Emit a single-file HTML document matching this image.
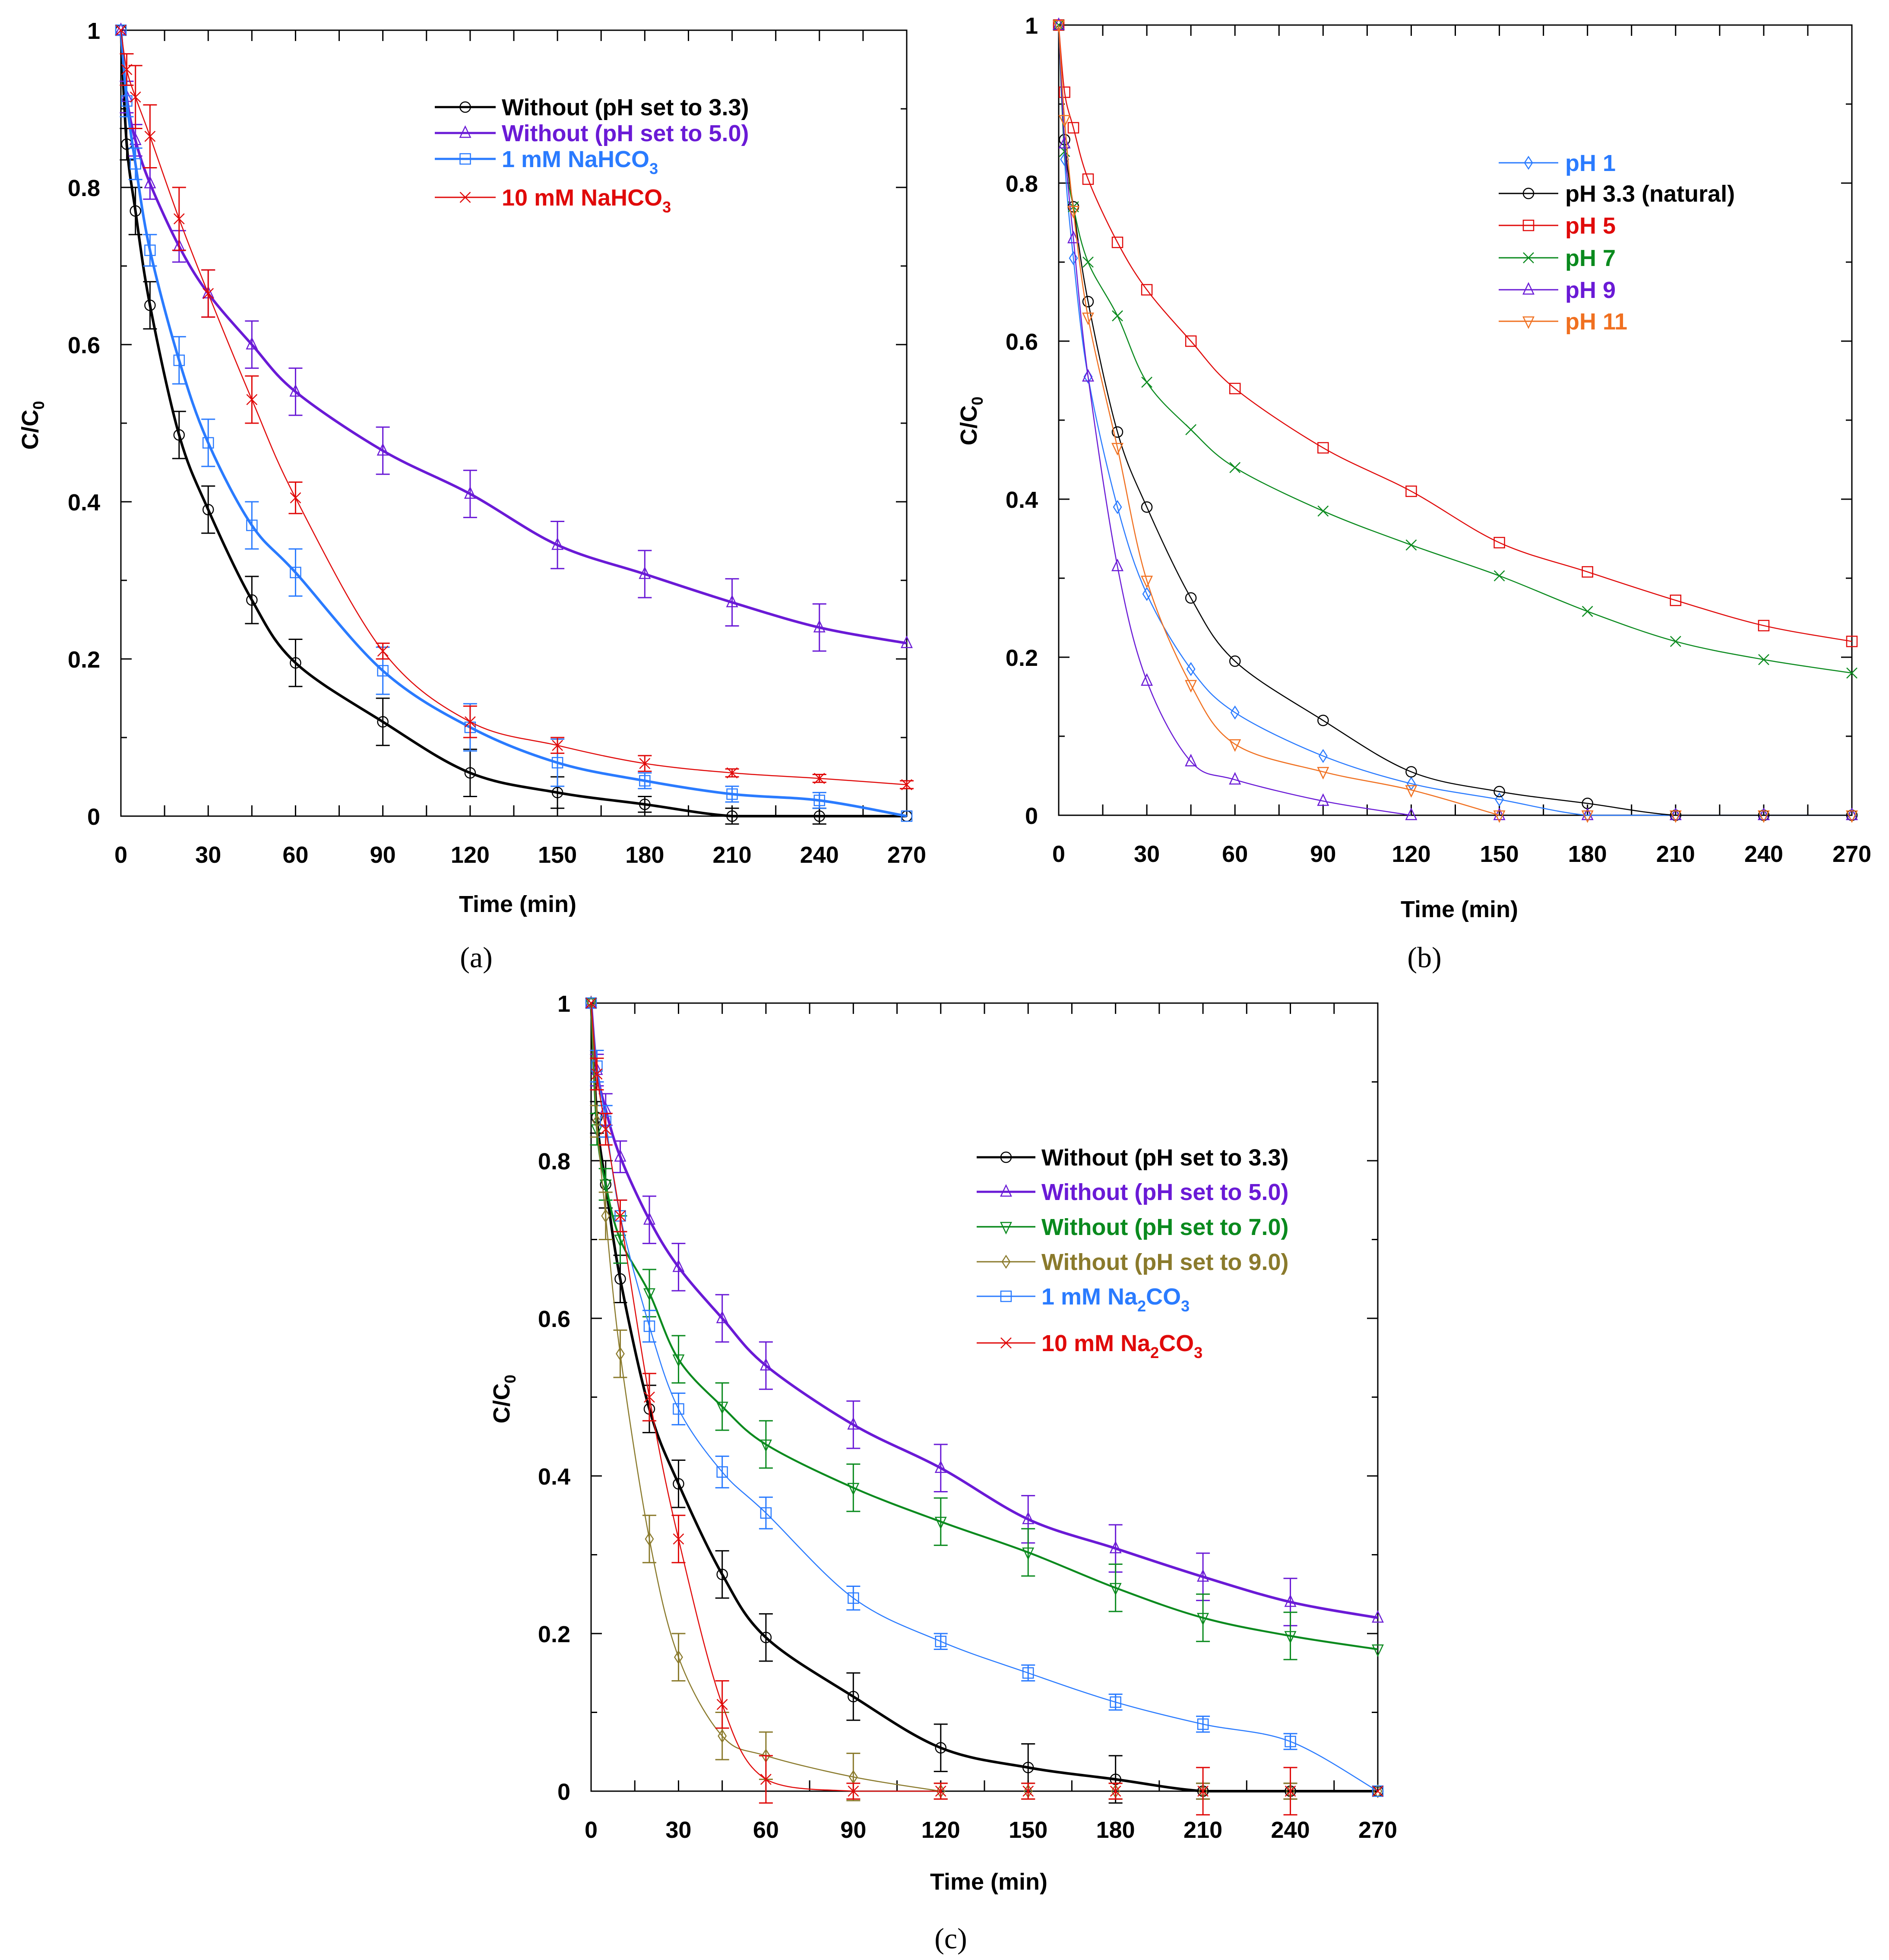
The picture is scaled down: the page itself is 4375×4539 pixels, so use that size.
<!DOCTYPE html>
<html><head><meta charset="utf-8">
<style>
html,body{margin:0;padding:0;background:#fff;}
svg{display:block;font-family:"Liberation Sans",Arial,sans-serif;}
</style></head>
<body>
<svg id="fig" width="4375" height="4539" viewBox="0 0 4375 4539" xmlns="http://www.w3.org/2000/svg"></svg>
<script>
// ---------- shared data ----------
const times = [0,2,5,10,20,30,45,60,90,120,150,180,210,240,270];
const xTickLabels = ["0","30","60","90","120","150","180","210","240","270"];
const yTickLabels = ["0","0.2","0.4","0.6","0.8","1"];

// panel (a)
const aPH33   = [1,0.855,0.77,0.65,0.485,0.39,0.275,0.195,0.12,0.055,0.03,0.015,0,0,0];
const aPH50   = [1,0.915,0.86,0.805,0.725,0.665,0.6,0.54,0.465,0.41,0.345,0.308,0.272,0.24,0.22];
const a1mM    = [1,0.91,0.83,0.72,0.58,0.475,0.37,0.31,0.185,0.113,0.068,0.045,0.028,0.02,0];
const a10mM   = [1,0.95,0.915,0.865,0.76,0.665,0.53,0.405,0.21,0.12,0.09,0.067,0.055,0.048,0.04];
const aErrPH33= [0,0.02,0.03,0.03,0.03,0.03,0.03,0.03,0.03,0.03,0.02,0.01,0.01,0.01,0];
const aErrPH50= [0,0.02,0.02,0.02,0.02,0.03,0.03,0.03,0.03,0.03,0.03,0.03,0.03,0.03,0];
const aErr1mM = [0,0.02,0.02,0.02,0.03,0.03,0.03,0.03,0.03,0.03,0.03,0.01,0.01,0.01,0];
const aErr10mM= [0,0.02,0.04,0.04,0.04,0.03,0.03,0.02,0.01,0.02,0.01,0.01,0.005,0.005,0.005];

// panel (b)
const bPH1  = [1,0.83,0.705,0.555,0.39,0.28,0.185,0.13,0.075,0.04,0.02,0,0,0,0];
const bPH33 = [1,0.855,0.77,0.65,0.485,0.39,0.275,0.195,0.12,0.055,0.03,0.015,0,0,0];
const bPH5  = [1,0.915,0.87,0.805,0.725,0.665,0.6,0.54,0.465,0.41,0.345,0.308,0.272,0.24,0.22];
const bPH7  = [1,0.84,0.77,0.70,0.632,0.548,0.488,0.44,0.385,0.342,0.303,0.258,0.22,0.197,0.18];
const bPH9  = [1,0.85,0.73,0.555,0.315,0.17,0.068,0.045,0.018,0,0,0,0,0,0];
const bPH11 = [1,0.88,0.765,0.63,0.465,0.297,0.165,0.09,0.055,0.032,0,0,0,0,0];

// panel (c)
const cPH33 = [1,0.855,0.77,0.65,0.485,0.39,0.275,0.195,0.12,0.055,0.03,0.015,0,0,0];
const cPH50 = [1,0.915,0.865,0.805,0.725,0.665,0.6,0.54,0.465,0.41,0.345,0.308,0.272,0.24,0.22];
const cPH70 = [1,0.84,0.77,0.70,0.632,0.548,0.488,0.44,0.385,0.342,0.303,0.258,0.22,0.197,0.18];
const cPH90 = [1,0.85,0.73,0.555,0.32,0.17,0.07,0.045,0.018,0,0,0,0,0,0];
const c1mM  = [1,0.92,0.85,0.73,0.59,0.485,0.405,0.353,0.245,0.19,0.15,0.113,0.085,0.063,0];
const c10mM = [1,0.91,0.84,0.73,0.5,0.32,0.11,0.015,0,0,0,0,0,0,0];
const cErrPH33=[0,0.02,0.03,0.03,0.03,0.03,0.03,0.03,0.03,0.03,0.03,0.03,0.01,0.01,0];
const cErrPH50=[0,0.02,0.02,0.02,0.03,0.03,0.03,0.03,0.03,0.03,0.03,0.03,0.03,0.03,0];
const cErrPH70=[0,0.02,0.02,0.03,0.03,0.03,0.03,0.03,0.03,0.03,0.03,0.03,0.03,0.03,0];
const cErrPH90=[0,0.02,0.03,0.03,0.03,0.03,0.03,0.03,0.03,0.01,0.01,0.01,0.01,0.01,0];
const cErr1mM =[0,0.02,0.02,0.02,0.02,0.02,0.02,0.02,0.015,0.01,0.01,0.01,0.01,0.01,0];
const cErr10mM=[0,0.02,0.02,0.02,0.03,0.03,0.03,0.03,0.01,0.01,0.01,0.01,0.03,0.03,0];

// ---------- drawing helpers ----------
const NS="http://www.w3.org/2000/svg";
const svg=document.getElementById('fig');
function mk(tag,attrs,parent){const e=document.createElementNS(NS,tag);for(const k in attrs)e.setAttribute(k,attrs[k]);(parent||svg).appendChild(e);return e;}

function smoothPath(pts){
  let d="M"+pts[0][0]+","+pts[0][1];
  for(let i=0;i<pts.length-1;i++){
    const p0=pts[i-1]||pts[i],p1=pts[i],p2=pts[i+1],p3=pts[i+2]||p2;
    let c1x=p1[0]+(p2[0]-p0[0])/6,c1y=p1[1]+(p2[1]-p0[1])/6;
    let c2x=p2[0]-(p3[0]-p1[0])/6,c2y=p2[1]-(p3[1]-p1[1])/6;
    const lo=Math.max(p1[1],p2[1]),hi=Math.min(p1[1],p2[1]);
    c1y=Math.min(Math.max(c1y,hi),lo);c2y=Math.min(Math.max(c2y,hi),lo);
    d+=" C"+c1x+","+c1y+" "+c2x+","+c2y+" "+p2[0]+","+p2[1];
  }
  return d;
}

function marker(g,type,x,y,color,sw){
  const r=12;let e;
  const st={fill:"none",stroke:color,"stroke-width":sw};
  if(type==="circle"){e=mk('circle',Object.assign({cx:x,cy:y,r:r},st),g);}
  else if(type==="square"){e=mk('rect',Object.assign({x:x-r,y:y-r,width:2*r,height:2*r},st),g);}
  else if(type==="tri"){e=mk('polygon',Object.assign({points:`${x},${y-r-3} ${x+r},${y+r-2} ${x-r},${y+r-2}`},st),g);}
  else if(type==="itri"){e=mk('polygon',Object.assign({points:`${x},${y+r+3} ${x+r},${y-r+2} ${x-r},${y-r+2}`},st),g);}
  else if(type==="diamond"){e=mk('polygon',Object.assign({points:`${x},${y-r-2} ${x+r-3},${y} ${x},${y+r+2} ${x-r+3},${y}`},st),g);}
  else if(type==="x"){e=mk('path',Object.assign({d:`M${x-r},${y-r}L${x+r},${y+r}M${x-r},${y+r}L${x+r},${y-r}`},st),g);}
  
  
}

function drawPanel(P){
  const g=mk('g',{});
  
  
  const sx=t=>P.x0+(t/270)*(P.x1-P.x0);
  const sy=v=>P.y0-(v)*(P.y0-P.y1);
  const fr=mk('rect',{x:P.x0,y:P.y1,width:P.x1-P.x0,height:P.y0-P.y1,fill:"none",stroke:"#000","stroke-width":3},g);
  
  
  for(let t=0;t<=270;t+=15){
    const x=sx(t);
    mk('line',{x1:x,y1:P.y0,x2:x,y2:P.y0-25,stroke:"#000","stroke-width":3},g);
    mk('line',{x1:x,y1:P.y1,x2:x,y2:P.y1+25,stroke:"#000","stroke-width":3},g);
  }
  for(let i=0;i<=10;i++){
    const y=sy(i/10);const len=(i%2===0)?25:14;
    mk('line',{x1:P.x0,y1:y,x2:P.x0+len,y2:y,stroke:"#000","stroke-width":3},g);
    mk('line',{x1:P.x1,y1:y,x2:P.x1-len,y2:y,stroke:"#000","stroke-width":3},g);
  }
  xTickLabels.forEach((lab,i)=>{
    const t=mk('text',{x:sx(i*30),y:P.y0+108,"text-anchor":"middle","font-size":54,"font-weight":"bold"},g);
    t.textContent=lab;
    
    
  });
  yTickLabels.forEach((lab,i)=>{
    const t=mk('text',{x:P.x0-48,y:sy(i*0.2)+20,"text-anchor":"end","font-size":54,"font-weight":"bold"},g);
    t.textContent=lab;
    
    
  });
  const xt=mk('text',{x:P.xtX,y:P.xtY,"text-anchor":"middle","font-size":54,"font-weight":"bold"},g);
  xt.textContent="Time (min)";
  
  
  const yt=mk('text',{x:0,y:0,"text-anchor":"middle","font-size":54,"font-weight":"bold",transform:`translate(${P.ytX},${P.ytY}) rotate(-90)`},g);
  yt.innerHTML='C/C<tspan dy="14" font-size="36">0</tspan>';
  
  
  const pl=mk('text',{x:P.plX,y:P.plY,"text-anchor":"middle","font-size":68,"font-family":"Liberation Serif, serif"},g);
  pl.textContent=P.label;
  
  

  P.series.forEach((s)=>{
    const sg=mk('g',{},g);
    
    
    let n=s.values.length;
    if(s.lineEnd!==undefined){n=times.indexOf(s.lineEnd)+1;}
    const pts=[];for(let i=0;i<n;i++)pts.push([sx(times[i]),sy(s.values[i])]);
    const ln=mk('path',{d:smoothPath(pts),fill:"none",stroke:s.color,"stroke-width":s.lw,"stroke-linejoin":"round"},sg);
    
    
    if(s.err){
      s.values.forEach((v,i)=>{
        const e=s.err[i];if(!e)return;
        const x=sx(times[i]);
        const eb=mk('path',{d:`M${x},${sy(v-e)}L${x},${sy(v+e)}M${x-16},${sy(v-e)}L${x+16},${sy(v-e)}M${x-16},${sy(v+e)}L${x+16},${sy(v+e)}`,fill:"none",stroke:s.color,"stroke-width":3},sg);
        
        
      });
    }
    s.values.forEach((v,i)=>marker(sg,s.marker,sx(times[i]),sy(v),s.color,2.5));
  });

  P.series.forEach((s,i)=>{
    const L=P.legend;const y=L.rows[i];
    const lg=mk('g',{},g);
    
    
    mk('line',{x1:L.lx0,y1:y,x2:L.lx1,y2:y,stroke:s.color,"stroke-width":Math.max(3,s.lw-1)},lg);
    marker(lg,s.marker,(L.lx0+L.lx1)/2,y,s.color,2.5);
    const t=mk('text',{x:L.tx,y:y+19,"font-size":54,"font-weight":"bold",fill:s.tcolor||s.color},lg);
    t.innerHTML=s.label;
  });
}

const BLACK="#000",PURPLE="#6a1ad6",BLUE="#2a7bff",RED="#e00a0a",GREEN="#0a8a1e",ORANGE="#f07020",OLIVE="#8a7a2c";
const S1='<tspan dy="16" font-size="36">', S2='</tspan>';

drawPanel({name:"panel-a",label:"(a)",x0:280,x1:2100,y0:1890,y1:70,
  xtX:1199,xtY:2112,ytX:88,ytY:985,plX:1103,plY:2240,
  legend:{lx0:1007,lx1:1148,tx:1162,rows:[248,308,368,457]},
  series:[
    {key:"ph33",values:aPH33,err:aErrPH33,color:BLACK,lw:6,marker:"circle",label:"Without (pH set to 3.3)"},
    {key:"ph50",values:aPH50,err:aErrPH50,color:PURPLE,lw:6,marker:"tri",label:"Without (pH set to 5.0)"},
    {key:"1mm",values:a1mM,err:aErr1mM,color:BLUE,lw:6,marker:"square",label:"1 mM NaHCO"+S1+"3"+S2},
    {key:"10mm",values:a10mM,err:aErr10mM,color:RED,lw:2.5,marker:"x",label:"10 mM NaHCO"+S1+"3"+S2}
  ]});

drawPanel({name:"panel-b",label:"(b)",x0:2452,x1:4289,y0:1888,y1:58,
  xtX:3380,xtY:2124,ytX:2262,ytY:975,plX:3299,plY:2240,
  legend:{lx0:3471,lx1:3609,tx:3625,rows:[377,448,522,597,671,744]},
  series:[
    {key:"ph1",values:bPH1,color:BLUE,lw:2.5,marker:"diamond",label:"pH 1"},
    {key:"ph33",values:bPH33,color:BLACK,lw:2.5,marker:"circle",label:"pH 3.3 (natural)"},
    {key:"ph5",values:bPH5,color:RED,lw:2.5,marker:"square",label:"pH 5"},
    {key:"ph7",values:bPH7,color:GREEN,lw:2.5,marker:"x",label:"pH 7"},
    {key:"ph9",values:bPH9,color:PURPLE,lw:2.5,marker:"tri",label:"pH 9",lineEnd:120},
    {key:"ph11",values:bPH11,color:ORANGE,lw:2.5,marker:"itri",label:"pH 11",lineEnd:150}
  ]});

drawPanel({name:"panel-c",label:"(c)",x0:1369,x1:3191,y0:4148,y1:2323,
  xtX:2290,xtY:4376,ytX:1180,ytY:3240,plX:2202,plY:4512,
  legend:{lx0:2262,lx1:2398,tx:2412,rows:[2680,2760,2841,2922,3002,3110]},
  series:[
    {key:"ph33",values:cPH33,err:cErrPH33,color:BLACK,lw:6,marker:"circle",label:"Without (pH set to 3.3)"},
    {key:"ph50",values:cPH50,err:cErrPH50,color:PURPLE,lw:6,marker:"tri",label:"Without (pH set to 5.0)"},
    {key:"ph70",values:cPH70,err:cErrPH70,color:GREEN,lw:4.5,marker:"itri",label:"Without (pH set to 7.0)"},
    {key:"ph90",values:cPH90,err:cErrPH90,color:OLIVE,lw:2.5,marker:"diamond",label:"Without (pH set to 9.0)",lineEnd:120},
    {key:"1mm",values:c1mM,err:cErr1mM,color:BLUE,lw:2.5,marker:"square",label:'1 mM Na<tspan dy="16" font-size="36">2</tspan><tspan dy="-16">CO</tspan><tspan dy="16" font-size="36">3</tspan>'},
    {key:"10mm",values:c10mM,err:cErr10mM,color:RED,lw:2.5,marker:"x",label:'10 mM Na<tspan dy="16" font-size="36">2</tspan><tspan dy="-16">CO</tspan><tspan dy="16" font-size="36">3</tspan>',lineEnd:120}
  ]});
</script>
</body></html>
